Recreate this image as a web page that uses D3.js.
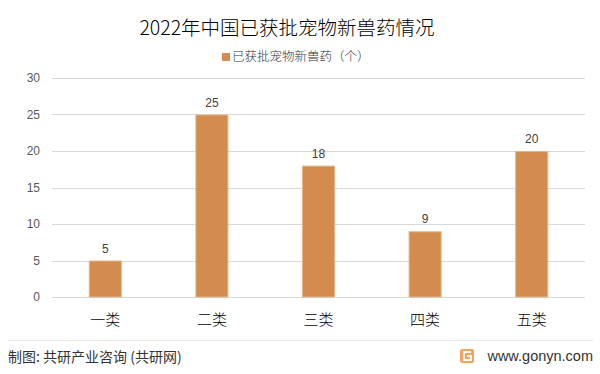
<!DOCTYPE html>
<html><head><meta charset="utf-8">
<script src="https://cdn.jsdelivr.net/npm/d3@7"></script>
<style>
html,body{margin:0;padding:0;background:#fff;}
svg{display:block;font-family:"Microsoft YaHei","Noto Sans CJK SC","Noto Sans",sans-serif;}
</style></head>
<body><svg id="c" width="600" height="374"></svg>
<script>
const title = "2022年中国已获批宠物新兽药情况";
const seriesName = "已获批宠物新兽药（个）";
const categories = ["一类","二类","三类","四类","五类"];
const values = [5,25,18,9,20];
const yTicks = [0,5,10,15,20,25,30];
const footerLeft = "制图: 共研产业咨询 (共研网)";
const footerRight = "www.gonyn.com";

const svg = d3.select("#c");
const barColor = "#D38C4E";

const x = d3.scaleBand().domain(categories).range([52,585]).paddingInner(0.69).paddingOuter(0.345);
const y = d3.scaleLinear().domain([0,30]).range([297,78]);

// gridlines
svg.append("g").selectAll("line").data(yTicks).join("line")
  .attr("x1",52).attr("x2",585)
  .attr("y1",d=>Math.round(y(d))+0.5).attr("y2",d=>Math.round(y(d))+0.5)
  .attr("stroke","#d9d9d9").attr("stroke-width",1);

// y tick labels
svg.append("g").selectAll("text").data(yTicks).join("text")
  .attr("x",40).attr("y",d=>y(d)).attr("dy","0.35em")
  .attr("text-anchor","end").attr("font-size",12).attr("fill","#595959")
  .attr("font-family","Arial, 'Liberation Sans', sans-serif")
  .text(d=>d);

// bars
svg.append("g").selectAll("rect").data(values).join("rect")
  .attr("x",(d,i)=>x(categories[i])+0.5).attr("width",x.bandwidth()-1)
  .attr("y",d=>y(d)+0.5).attr("height",d=>y(0)-y(d)-0.5)
  .attr("fill",barColor).attr("stroke","#E6B488").attr("stroke-width",1);

// value labels
svg.append("g").selectAll("text").data(values).join("text")
  .attr("x",(d,i)=>x(categories[i])+x.bandwidth()/2).attr("y",d=>y(d)-8)
  .attr("text-anchor","middle").attr("font-size",12).attr("fill","#404040")
  .attr("font-family","Arial, 'Liberation Sans', sans-serif")
  .text(d=>d);

// x labels
svg.append("g").selectAll("text").data(categories).join("text")
  .attr("x",d=>x(d)+x.bandwidth()/2).attr("y",320).attr("dy","0.35em")
  .attr("text-anchor","middle").attr("font-size",15).attr("font-weight",300).attr("fill","#000")
  .text(d=>d);

// title
svg.append("text").attr("x",287).attr("y",28).attr("dy","0.35em")
  .attr("text-anchor","middle").attr("font-size",19.5).attr("font-weight",300).attr("fill","#000").text(title);

// legend
svg.append("rect").attr("x",222).attr("y",53).attr("width",8).attr("height",8).attr("fill",barColor);
svg.append("text").attr("x",232).attr("y",57).attr("dy","0.35em")
  .attr("font-size",12.5).attr("font-weight",300).attr("fill","#333").text(seriesName);

// footer
svg.append("line").attr("x1",8).attr("x2",593).attr("y1",340.5).attr("y2",340.5)
  .attr("stroke","#e6e6e6").attr("stroke-width",1);
svg.append("text").attr("x",8).attr("y",357).attr("dy","0.35em")
  .attr("font-size",14).attr("fill","#333").text(footerLeft);
// logo
const lg = svg.append("g").attr("transform","translate(460,349)");
lg.append("rect").attr("width",14).attr("height",14).attr("rx",2).attr("fill","#F5A35C");
lg.append("path").attr("d","M11 3 H4 V11 H11 V7 H7").attr("fill","none").attr("stroke","#fff").attr("stroke-width",2);
svg.append("text").attr("x",593).attr("y",356).attr("dy","0.35em")
  .attr("text-anchor","end").attr("font-size",14.5).attr("fill","#333")
  .attr("font-family","Arial, 'Liberation Sans', sans-serif").text(footerRight);
</script></body></html>
